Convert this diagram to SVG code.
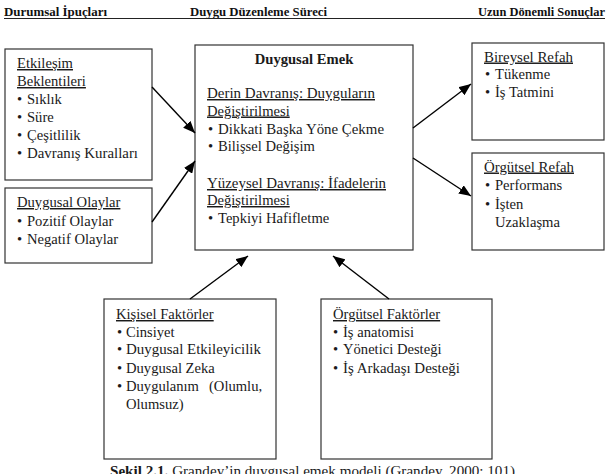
<svg xmlns="http://www.w3.org/2000/svg" width="607" height="474" viewBox="0 0 607 474" font-family="Liberation Serif, Times New Roman, Tinos, DejaVu Serif, serif">
<defs>
<marker id="ah" markerUnits="userSpaceOnUse" markerWidth="12" markerHeight="10" viewBox="0 0 12 10" refX="12" refY="5" orient="auto">
<path d="M0,0 L12,5 L0,10 z" fill="#000"/>
</marker>
</defs>
<rect width="607" height="474" fill="#fff"/>
<g id="headers" font-size="13" font-weight="bold" fill="#111">
<text x="4" y="16" textLength="103" lengthAdjust="spacingAndGlyphs">Durumsal İpuçları</text>
<text x="190" y="16" textLength="137" lengthAdjust="spacingAndGlyphs">Duygu Düzenleme Süreci</text>
<text x="478" y="16" textLength="127" lengthAdjust="spacingAndGlyphs">Uzun Dönemli Sonuçlar</text>
<line x1="4" y1="18.5" x2="605" y2="18.5" stroke="#222" stroke-width="1"/>
</g>
<g id="etkilesim" font-size="14.6" fill="#1a1a1a">
<rect x="5" y="49" width="147" height="131" fill="#fff" stroke="#333" stroke-width="1.2"/>
<text text-decoration="underline" x="17" y="68" textLength="56" lengthAdjust="spacingAndGlyphs">Etkileşim</text>
<text text-decoration="underline" x="17" y="86">Beklentileri</text>
<text x="17" y="104">•</text><text x="27" y="104">Sıklık</text>
<text x="17" y="122">•</text><text x="27" y="122">Süre</text>
<text x="17" y="140">•</text><text x="27" y="140">Çeşitlilik</text>
<text x="17" y="158">•</text><text x="27" y="158" textLength="111" lengthAdjust="spacingAndGlyphs">Davranış Kuralları</text>
</g>
<g id="olaylar" font-size="14.6" fill="#1a1a1a">
<rect x="5" y="188" width="147" height="75" fill="#fff" stroke="#333" stroke-width="1.2"/>
<text text-decoration="underline" x="17" y="207">Duygusal Olaylar</text>
<text x="17" y="225.5">•</text><text x="27" y="225.5">Pozitif Olaylar</text>
<text x="17" y="244">•</text><text x="27" y="244">Negatif Olaylar</text>
</g>
<g id="emek" font-size="14.6" fill="#1a1a1a">
<rect x="195" y="45" width="218" height="205" fill="#fff" stroke="#333" stroke-width="1.2"/>
<text font-weight="bold" x="304" y="64" text-anchor="middle">Duygusal Emek</text>
<text text-decoration="underline" x="207" y="98" textLength="168" lengthAdjust="spacingAndGlyphs">Derin Davranış: Duyguların</text>
<text text-decoration="underline" x="207" y="115.5">Değiştirilmesi</text>
<text x="208" y="133.5">•</text><text x="218" y="133.5" textLength="166" lengthAdjust="spacingAndGlyphs">Dikkati Başka Yöne Çekme</text>
<text x="208" y="151">•</text><text x="218" y="151">Bilişsel Değişim</text>
<text text-decoration="underline" x="207" y="188" textLength="179" lengthAdjust="spacingAndGlyphs">Yüzeysel Davranış: İfadelerin</text>
<text text-decoration="underline" x="207" y="205">Değiştirilmesi</text>
<text x="208" y="222.5">•</text><text x="218" y="222.5">Tepkiyi Hafifletme</text>
</g>
<g id="bireysel" font-size="14.6" fill="#1a1a1a">
<rect x="472" y="43" width="132" height="97" fill="#fff" stroke="#333" stroke-width="1.2"/>
<text text-decoration="underline" x="484" y="61.5" textLength="89" lengthAdjust="spacingAndGlyphs">Bireysel Refah</text>
<text x="485" y="78.5">•</text><text x="495" y="78.5">Tükenme</text>
<text x="485" y="96.5">•</text><text x="495" y="96.5">İş Tatmini</text>
</g>
<g id="orgutsel-refah" font-size="14.6" fill="#1a1a1a">
<rect x="472" y="153" width="132" height="97" fill="#fff" stroke="#333" stroke-width="1.2"/>
<text text-decoration="underline" x="484" y="171.5" textLength="90" lengthAdjust="spacingAndGlyphs">Örgütsel Refah</text>
<text x="485" y="190">•</text><text x="495" y="190">Performans</text>
<text x="485" y="208.5">•</text><text x="495" y="208.5">İşten</text>
<text x="495" y="226.5" textLength="65" lengthAdjust="spacingAndGlyphs">Uzaklaşma</text>
</g>
<g id="kisisel" font-size="14.6" fill="#1a1a1a">
<rect x="104" y="299" width="172" height="160" fill="#fff" stroke="#333" stroke-width="1.2"/>
<text text-decoration="underline" x="116" y="319">Kişisel Faktörler</text>
<text x="117" y="336.5">•</text><text x="126" y="336.5">Cinsiyet</text>
<text x="117" y="354">•</text><text x="126" y="354" textLength="135" lengthAdjust="spacingAndGlyphs">Duygusal Etkileyicilik</text>
<text x="117" y="372.5">•</text><text x="126" y="372.5">Duygusal Zeka</text>
<text x="117" y="390.5">•</text><text x="126" y="390.5">Duygulanım</text><text x="209" y="390.5">(Olumlu,</text>
<text x="126" y="408.5">Olumsuz)</text>
</g>
<g id="orgutsel-faktorler" font-size="14.6" fill="#1a1a1a">
<rect x="321" y="299" width="171" height="160" fill="#fff" stroke="#333" stroke-width="1.2"/>
<text text-decoration="underline" x="333" y="319">Örgütsel Faktörler</text>
<text x="333" y="336.5">•</text><text x="343" y="336.5">İş anatomisi</text>
<text x="333" y="354">•</text><text x="343" y="354">Yönetici Desteği</text>
<text x="333" y="372.5">•</text><text x="343" y="372.5" textLength="117" lengthAdjust="spacingAndGlyphs">İş Arkadaşı Desteği</text>
</g>
<g id="connectors" stroke="#000" stroke-width="1.4" fill="none" marker-end="url(#ah)">
<path d="M152,87 L195,133"/>
<path d="M152,222 L195,161"/>
<path d="M413,128 L471,84"/>
<path d="M413,158 L471,196"/>
<path d="M190,299 L248,256"/>
<path d="M389,299 L333,256"/>
</g>
<g id="caption" font-size="14.6" fill="#1a1a1a">
<text x="110" y="476" textLength="405" lengthAdjust="spacingAndGlyphs"><tspan font-weight="bold">Şekil 2.1.</tspan> Grandey’in duygusal emek modeli (Grandey, 2000: 101)</text>
</g>
</svg>
